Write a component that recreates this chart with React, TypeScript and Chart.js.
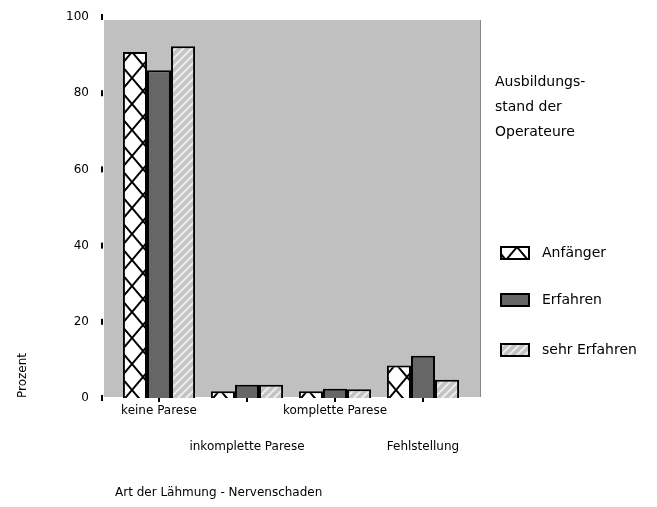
import React, { useEffect, useRef } from "react";
import { Chart, registerables } from "chart.js";

Chart.register(...registerables);

const categories: string[][] = [
  ["keine Parese"],
  ["", "", "inkomplette Parese"],
  ["komplette Parese"],
  ["", "", "Fehlstellung"],
];
const seriesNames = ["Anfänger", "Erfahren", "sehr Erfahren"];
const anfaenger = [90.8, 1.8, 1.8, 8.5];
const erfahren = [86.0, 3.5, 2.4, 11.1];
const sehrErfahren = [92.3, 3.5, 2.3, 4.8];
const yTicks = [0, 20, 40, 60, 80, 100];
const legendTitle = ["Ausbildungs-", "stand der", "Operateure"];
const xTitle = "Art der Lähmung - Nervenschaden";
const yTitle = "Prozent";

const FONT = "'DejaVu Sans', sans-serif";

function makeDiamond(): CanvasPattern | string {
  const c = document.createElement("canvas");
  c.width = 22;
  c.height = 26;
  const g = c.getContext("2d");
  if (!g) return "#fff";
  g.fillStyle = "#ffffff";
  g.fillRect(0, 0, 22, 26);
  g.strokeStyle = "#000";
  g.lineWidth = 2;
  g.beginPath();
  g.moveTo(0, 0);
  g.lineTo(22, 26);
  g.moveTo(22, 0);
  g.lineTo(0, 26);
  g.stroke();
  return g.createPattern(c, "repeat") || "#fff";
}

function makeStripes(): CanvasPattern | string {
  const c = document.createElement("canvas");
  c.width = 8;
  c.height = 8;
  const g = c.getContext("2d");
  if (!g) return "#ccc";
  g.fillStyle = "#c4c4c4";
  g.fillRect(0, 0, 8, 8);
  g.strokeStyle = "#ececec";
  g.lineWidth = 2;
  g.beginPath();
  g.moveTo(0, 8);
  g.lineTo(8, 0);
  g.moveTo(-1, 1);
  g.lineTo(1, -1);
  g.moveTo(7, 9);
  g.lineTo(9, 7);
  g.stroke();
  return g.createPattern(c, "repeat") || "#ccc";
}

export default function App() {
  const ref = useRef<HTMLCanvasElement | null>(null);

  useEffect(() => {
    const canvas = ref.current;
    if (!canvas) return;
    const fills = [makeDiamond(), "#666666", makeStripes()];

    const bgPlugin = {
      id: "bgPlugin",
      beforeDatasetsDraw(chart: any) {
        const { ctx, chartArea } = chart;
        ctx.save();
        ctx.fillStyle = "#c0c0c0";
        ctx.fillRect(104, 20, 377, chartArea.bottom - 20 - 1);
        ctx.fillStyle = "#888";
        ctx.fillRect(480, 20, 1, chartArea.bottom - 21);
        ctx.restore();
      },
      afterDraw(chart: any) {
        const { ctx } = chart;
        const y = chart.scales.y;
        ctx.save();
        ctx.fillStyle = "#000";
        y.ticks.forEach((t: any) => {
          const py = y.getPixelForValue(t.value);
          ctx.fillRect(101, py - 3, 2, 6);
        });
        // legend
        ctx.font = `14px ${FONT}`;
        ctx.textBaseline = "middle";
        ctx.textAlign = "left";
        legendTitle.forEach((line, i) => {
          ctx.fillText(line, 495, 82 + i * 25);
        });
        const centers = [253, 300, 350];
        chart.data.datasets.forEach((ds: any, i: number) => {
          const cy = centers[i];
          ctx.fillStyle = ds.backgroundColor;
          ctx.fillRect(500, cy - 7, 30, 14);
          ctx.strokeStyle = "#000";
          ctx.lineWidth = 2;
          ctx.strokeRect(501, cy - 6, 28, 12);
          ctx.fillStyle = "#000";
          ctx.fillText(ds.label, 542, cy);
        });
        ctx.restore();
      },
    };

    const chart = new Chart(canvas, {
      type: "bar",
      data: {
        labels: categories,
        datasets: [anfaenger, erfahren, sehrErfahren].map((d, i) => ({
          label: seriesNames[i],
          data: d,
          backgroundColor: fills[i] as any,
          borderColor: "#000",
          borderWidth: 2,
          borderSkipped: "bottom" as const,
          categoryPercentage: 0.82,
          barPercentage: 1.0,
        })),
      },
      options: {
        animation: false,
        responsive: false,
        events: [],
        layout: { padding: { left: 0, top: 17, right: 190, bottom: 0 } },
        plugins: {
          legend: { display: false },
          tooltip: { enabled: false },
        },
        scales: {
          x: {
            offset: true,
            grid: {
              display: true,
              drawOnChartArea: false,
              drawTicks: true,
              tickLength: 4,
              color: "#000",
              lineWidth: 2,
              offset: false,
            },
            border: { display: false },
            ticks: {
              autoSkip: false,
              maxRotation: 0,
              minRotation: 0,
              padding: 0,
              color: "#000",
              font: { family: FONT, size: 12, lineHeight: 1.5 },
            },
            title: {
              display: true,
              text: xTitle,
              align: "start",
              color: "#000",
              font: { family: FONT, size: 12 },
              padding: { top: 0, bottom: 7 },
            },
            afterFit(scale: any) {
              scale.height = 109;
              scale.paddingTop = 0;
              scale.paddingBottom = 0;
            },
          },
          y: {
            min: 0,
            max: 100,
            afterBuildTicks(scale: any) {
              scale.ticks = yTicks.map((v) => ({ value: v }));
            },
            grid: { display: false, drawTicks: false, drawOnChartArea: false },
            border: { display: false },
            ticks: {
              padding: 26,
              color: "#000",
              font: { family: FONT, size: 12 },
            },
            title: {
              display: true,
              text: yTitle,
              align: "start",
              color: "#000",
              font: { family: FONT, size: 12 },
              padding: { top: 16, bottom: 0 },
            },
            afterFit(scale: any) {
              scale.width = 115;
              scale.paddingTop = 0;
              scale.paddingBottom = 0;
            },
          },
        },
      },
      plugins: [bgPlugin],
    });

    return () => chart.destroy();
  }, []);

  return (
    <div style={{ position: "fixed", left: 0, top: 0, width: 657, height: 507, background: "#fff" }}>
      <canvas ref={ref} width={657} height={507} style={{ width: 657, height: 507, display: "block" }} />
    </div>
  );
}
